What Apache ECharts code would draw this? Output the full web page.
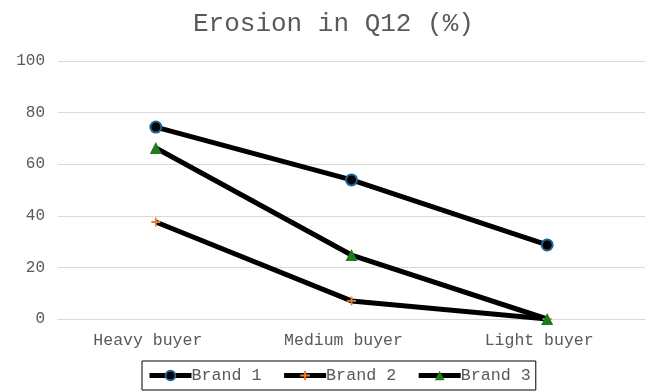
<!DOCTYPE html>
<html>
<head>
<meta charset="utf-8">
<script src="https://cdn.jsdelivr.net/npm/echarts@6/dist/echarts.min.js"></script>
<style>
  html, body { margin: 0; padding: 0; background: #fff; }
  #chart { width: 647px; height: 391px; }
</style>
</head>
<body>
<div id="chart"></div>
<script>
const categories = ["Heavy buyer", "Medium buyer", "Light buyer"];
const brand1 = [74.4, 53.9, 28.7];
const brand2 = [37.6, 7.0, 0.0];
const brand3 = [66.3, 24.8, 0.0];
const yTicks = [0, 20, 40, 60, 80, 100];

const FONT = "'Liberation Mono', 'DejaVu Sans Mono', monospace";
const PLUS = "path://M4,0L6,0L6,4L10,4L10,6L6,6L6,10L4,10L4,6L0,6L0,4L4,4Z";

const chart = echarts.init(document.getElementById("chart"));

function lineSeries(name, data, symbol, size, markerStyle) {
  return {
    name,
    type: "line",
    data,
    symbol,
    symbolSize: size,
    showAllSymbol: true,
    lineStyle: { color: "#000", width: 5 },
    itemStyle: markerStyle,
    emphasis: { disabled: true },
    z: 2,
  };
}

chart.setOption({
  animation: false,
  backgroundColor: "#fff",
  textStyle: { fontFamily: FONT },
  title: {
    text: "Erosion in Q12 (%)",
    left: 188,
    top: 6,
    textStyle: { color: "#595959", fontSize: 26, fontWeight: "normal", fontFamily: FONT },
  },
  legend: {
    bottom: 1,
    left: 142,
    itemWidth: 42,
    itemHeight: 12,
    itemGap: 20,
    padding: [6, 5, 6, 5],
    borderColor: "#000",
    borderWidth: 1,
    lineStyle: { width: 5 },
    textStyle: { color: "#595959", fontSize: 16.7, fontFamily: FONT, padding: [0, 0, 0, -5] },
    data: ["Brand 1", "Brand 2", "Brand 3"],
  },
  grid: { left: 58, right: 2, top: 61, bottom: 72 },
  xAxis: {
    type: "category",
    data: categories,
    boundaryGap: true,
    axisLine: { lineStyle: { color: "#d9d9d9" } },
    axisTick: { show: false },
    axisLabel: { color: "#595959", fontSize: 16.5, margin: 13, padding: [0, 16, 0, 0], fontFamily: FONT },
  },
  yAxis: {
    type: "value",
    min: yTicks[0],
    max: yTicks[yTicks.length - 1],
    interval: 20,
    axisLine: { show: false },
    axisTick: { show: false },
    axisLabel: { color: "#595959", fontSize: 16, margin: 13, fontFamily: FONT },
    splitLine: { lineStyle: { color: "#d9d9d9", width: 1 } },
  },
  series: [
    lineSeries("Brand 1", brand1, "circle", 11, { color: "#000", borderColor: "#1f6391", borderWidth: 2 }),
    lineSeries("Brand 2", brand2, PLUS, 9, { color: "#ed7d31", borderWidth: 0 }),
    lineSeries("Brand 3", brand3, "triangle", 12, { color: "#1e7b1e", borderWidth: 0 }),
  ],
});
</script>
</body>
</html>
